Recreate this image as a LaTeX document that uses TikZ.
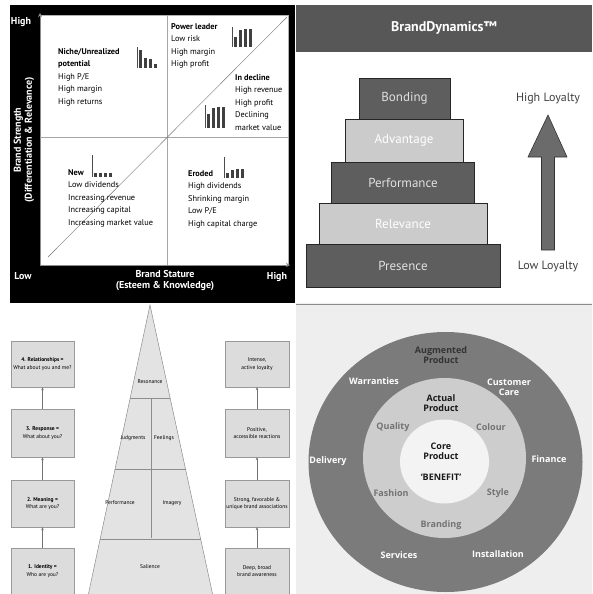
\documentclass[tikz,border=0pt]{standalone}
\usepackage{fontspec}
\setmainfont{PT Sans}
\newfontfamily\ringfont{Open Sans}
\usetikzlibrary{arrows.meta, positioning, calc}
\usepackage{xcolor}

\definecolor{stepdark}{HTML}{5E5E5E}
\definecolor{steplight}{HTML}{CBCBCB}
\definecolor{headbar}{HTML}{575757}
\definecolor{boxfill}{HTML}{DCDCDC}
\definecolor{pyrfill}{HTML}{E3E3E3}
\definecolor{ringout}{HTML}{7B7B7B}
\definecolor{ringmid}{HTML}{CDCDCD}
\definecolor{ringin}{HTML}{F3F3F3}
\definecolor{ringbg}{HTML}{EEEEEE}

\begin{document}
\begin{tikzpicture}[x=1pt, y=-1pt,
    cell/.style={inner sep=0pt, anchor=north west, align=left, font=\fontsize{8.3}{12.5}\selectfont},
    axtxt/.style={inner sep=0pt, align=center, text=white, font=\bfseries\fontsize{10}{11}\selectfont},
    stepbox/.style={rectangle, draw=black!85, minimum width=#1, minimum height=41pt,
                    inner sep=0pt, font=\fontsize{13}{14}\selectfont},
    lvlbox/.style={rectangle, draw=black!40, fill=boxfill, minimum height=46pt, inner sep=1pt,
                   align=center, font=\fontsize{5.5}{7.5}\selectfont},
    pyrtxt/.style={inner sep=0pt, font=\fontsize{5.5}{7}\selectfont},
    ringtxt/.style={inner sep=0pt, align=center, font=\ringfont\bfseries\fontsize{9}{10}\selectfont},
    arr/.style={-{Stealth[length=3pt, width=2.5pt]}, draw=black!55, line width=0.5pt},
    axarr/.style={-{Stealth[length=4pt, width=4pt]}, draw=black!45, line width=0.8pt}
]
\useasboundingbox (0,0) rectangle (592,594);

% --- Grid Coordinates ---
\def\midX{167}   % vertical split of the matrix
\def\midY{137}   % horizontal split of the matrix
\def\stepX{403}  % centre of the staircase
\def\lcol{42.5}  % left column of boxes
\def\rcol{257}   % right column of boxes

% ===================== Top left : brand matrix =====================
\fill[black] (10,5) rectangle (295,303);
\fill[white, draw=black!30] (40,15) rectangle (288,265);
\coordinate (orig) at (40,265);
\coordinate (ytip) at (40,13);
\coordinate (xtip) at (290,265);
\draw[axarr] (orig) -- (ytip);
\draw[axarr] (orig) -- (xtip);
\draw[black!35] (\midX,15) -- (\midX,265);
\draw[black!35] (40,\midY) -- (288,\midY);
\draw[black!55] (48,257) -- (287,17);

% quadrant texts
\node[cell] (niche)  at (58,48)  {\textbf{Niche/Unrealized}\\\textbf{potential}\\High P/E\\High margin\\High returns};
\node[cell] (power)  at (171,23) {\textbf{Power leader}\\Low risk\\High margin\\High profit};
\node[cell] (declin) at (235,74) {\textbf{In decline}\\High revenue\\High profit\\Declining\\market value};
\node[cell] (new)    at (68,169) {\textbf{New}\\Low dividends\\Increasing revenue\\Increasing capital\\Increasing market value};
\node[cell] (eroded) at (188,170){\textbf{Eroded}\\High dividends\\Shrinking margin\\Low P/E\\High capital charge};

% little bar charts
\foreach \bx/\by/\top/\hs in {137/68/47/{18,10,9,4}, 232/47/27/{10,17,18,18},
                              205/128/105/{14,20,21,21}, 92/177/155/{4,4,4,4},
                              224/178/157/{5,8,9,9}}{
    \draw[black!70, line width=0.6pt] (\bx,\top) -- (\bx,\by);
    \foreach \h [count=\i] in \hs
        \fill[black!75] (\bx+\i*5-3,\by) rectangle ++(3,-\h);
}

% axis labels
\node[axtxt, rotate=90] (ylab) at (24,140) {Brand Strength\\(Differentiation \& Relevance)};
\node[axtxt] (xlab) at (165,281) {Brand Stature\\(Esteem \& Knowledge)};
\node[axtxt] (yhi) at (21,22)  {High};
\node[axtxt] (ylo) at (23,276) {Low};
\node[axtxt] (xhi) at (277,277) {High};

% ===================== Top right : BrandDynamics =====================
\fill[headbar] (296,5) rectangle (592,52);
\node[text=white, font=\bfseries\fontsize{14}{15}\selectfont] (title) at (444,28) {BrandDynamics™};

\node[stepbox=194pt, fill=stepdark, text=black!12, minimum height=43pt] (pres) at (\stepX,265.5) {Presence};
\node[stepbox=168pt, fill=steplight, text=white] (relv) at (\stepX,223.5) {Relevance};
\node[stepbox=143pt, fill=stepdark, text=black!12] (perf) at (\stepX,182.5) {Performance};
\node[stepbox=118pt, fill=steplight, text=white, minimum height=43pt] (advt) at (404,140.5) {Advantage};
\node[stepbox=91pt, fill=stepdark, text=black!12] (bond) at (404.5,98.5) {Bonding};

\node[text=black!75, font=\fontsize{12}{13}\selectfont] (hiloy) at (548,99)  {High Loyalty};
\node[text=black!75, font=\fontsize{12}{13}\selectfont] (loloy) at (548,267) {Low Loyalty};
\fill[black!58, draw=black!80, line width=0.6pt]
    (548,115) -- (567,157) -- (554.5,157) -- (554.5,250) -- (541.5,250)
    -- (541.5,157) -- (528,157) -- cycle;

% ===================== Bottom left : brand resonance =====================
\coordinate (apex) at (150,305);
\coordinate (bl) at (88,596);
\coordinate (br) at (213,596);
\fill[pyrfill, draw=black!45, line width=0.5pt] (apex) -- (br) -- (bl) -- cycle;
\draw[black!45, line width=0.5pt] ($(apex)!0.322!(bl)$) -- ($(apex)!0.322!(br)$);
\draw[black!45, line width=0.5pt] ($(apex)!0.564!(bl)$) -- ($(apex)!0.564!(br)$);
\draw[black!45, line width=0.5pt] ($(apex)!0.806!(bl)$) -- ($(apex)!0.806!(br)$);
\draw[black!45, line width=0.5pt] (151,398) -- (151,538);

\node[pyrtxt] (reso) at (150,382) {Resonance};
\node[pyrtxt] (judg) at (133,438) {Judgments};
\node[pyrtxt] (feel) at (164,438) {Feelings};
\node[pyrtxt] (prf)  at (120,503) {Performance};
\node[pyrtxt] (imag) at (172,503) {Imagery};
\node[pyrtxt] (sali) at (150,567) {Salience};

% left column
\node[lvlbox, minimum width=63pt] (rel) at (\lcol,364)   {\textbf{4. Relationships =}\\What about you and me?};
\node[lvlbox, minimum width=63pt, minimum height=48pt] (resp) at (\lcol,433) {\textbf{3. Response =}\\What about you?};
\node[lvlbox, minimum width=63pt, minimum height=47pt] (mean) at (\lcol,503.5) {\textbf{2. Meaning =}\\What are you?};
\node[lvlbox, minimum width=63pt] (iden) at (\lcol,571)  {\textbf{1. Identity =}\\Who are you?};

% right column
\node[lvlbox, minimum width=64pt] (loyal) at (\rcol,364)   {Intense,\\active loyalty};
\node[lvlbox, minimum width=64pt, minimum height=48pt] (react) at (\rcol,433) {Positive,\\accessible reactions};
\node[lvlbox, minimum width=64pt, minimum height=47pt] (assoc) at (\rcol,503.5) {Strong, favorable \&\\unique brand associations};
\node[lvlbox, minimum width=64pt] (aware) at (\rcol,571)  {Deep, broad\\brand awareness};

% --- Arrows ---
\draw[arr] (iden) -- (mean);
\draw[arr] (mean) -- (resp);
\draw[arr] (resp) -- (rel);
\draw[arr] (aware) -- (assoc);
\draw[arr] (assoc) -- (react);
\draw[arr] (react) -- (loyal);

% ===================== Bottom right : product levels =====================
\fill[ringbg] (296,303) rectangle (592,594);
\draw[black!45, line width=0.8pt] (296,304) -- (592,304);
\fill[ringout] (445.5,462) ellipse [x radius=137, y radius=130];
\fill[ringmid] (444.5,458) ellipse [x radius=81.5, y radius=80];
\fill[ringin]  (444.5,461.5) ellipse [x radius=44.5, y radius=42];

\node[ringtxt, text=black!80] (augm) at (441,355) {Augmented\\Product};
\node[ringtxt, text=white] (warr) at (374,381) {Warranties};
\node[ringtxt, text=white] (care) at (509,387) {Customer\\Care};
\node[ringtxt, text=white] (deli) at (328,461) {Delivery};
\node[ringtxt, text=white] (fina) at (549,459) {Finance};
\node[ringtxt, text=white] (serv) at (399,555) {Services};
\node[ringtxt, text=white] (inst) at (498,554) {Installation};

\node[ringtxt, text=black!90] (actu) at (441,403) {Actual\\Product};
\node[ringtxt, text=black!55] (qual) at (393,427) {Quality};
\node[ringtxt, text=black!55] (colr) at (491,427) {Colour};
\node[ringtxt, text=black!55] (fash) at (391,493) {Fashion};
\node[ringtxt, text=black!55] (styl) at (498,493) {Style};
\node[ringtxt, text=black!55] (bran) at (441,525) {Branding};

\node[ringtxt, text=black!90] (core) at (441,451) {Core\\Product};
\node[ringtxt, text=black!90] (bene) at (441,477) {‘BENEFIT’};

\end{tikzpicture}
\end{document}
